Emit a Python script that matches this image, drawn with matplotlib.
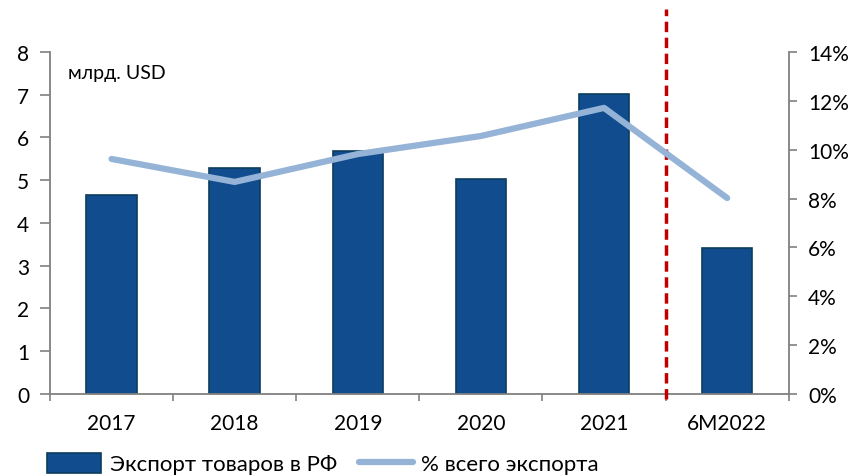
import numpy as np
import matplotlib
matplotlib.use('Agg')
import matplotlib.pyplot as plt
from matplotlib.ticker import FuncFormatter

plt.rcParams['font.family'] = ['Lato', 'DejaVu Sans']

# data
categories = ['2017', '2018', '2019', '2020', '2021', '6M2022']
export_bn = [4.65, 5.29, 5.68, 5.03, 7.02, 3.41]
share_pct = [9.62, 8.68, 9.82, 10.56, 11.71, 8.02]
unit_label = 'млрд. USD'
bar_label = 'Экспорт товаров в РФ'
line_label = '% всего экспорта'

bar_color = '#114C8E'
edge_color = '#0A3D5C'
line_color = '#95B3D7'
axis_gray = '#808080'

fig = plt.figure(figsize=(8.62, 4.77), dpi=100)
ax1 = fig.add_axes([0.058, 0.172, 0.857, 0.717])
ax2 = ax1.twinx()

x = np.arange(len(categories))
b = ax1.bar(x, export_bn, width=0.41, color=bar_color, edgecolor=edge_color,
            linewidth=1.2, label=bar_label, zorder=2)
l, = ax2.plot(x, share_pct, color=line_color, lw=4.5, solid_capstyle='round',
              solid_joinstyle='round', label=line_label, zorder=3)

ax1.set_xlim(-0.5, len(categories) - 0.5)
ax1.set_ylim(0, 8)
ax2.set_ylim(0, 14)
ax1.set_yticks(range(0, 9))
ax2.set_yticks(range(0, 15, 2))
ax2.yaxis.set_major_formatter(FuncFormatter(lambda v, p: '%d%%' % v))

ax1.set_xticks(x)
ax1.set_xticklabels(categories)
ax1.set_xticks(np.arange(-0.5, len(categories), 1.0), minor=True)
ax1.tick_params(axis='x', which='major', length=0, pad=14, labelsize=15)
ax1.tick_params(axis='x', which='minor', length=5, direction='out', color=axis_gray, width=1.2)
ax1.tick_params(axis='y', length=7, direction='out', color=axis_gray, width=1.2,
                labelsize=15, pad=8)
ax2.tick_params(axis='y', length=6, direction='out', color=axis_gray, width=1.2,
                labelsize=15, pad=8)

for ax in (ax1, ax2):
    ax.spines['top'].set_visible(False)
    for s in ('left', 'right', 'bottom'):
        ax.spines[s].set_color(axis_gray)
        ax.spines[s].set_linewidth(1.3)
ax1.spines['right'].set_visible(False)
ax2.spines['left'].set_visible(False)
ax2.spines['bottom'].set_visible(False)

# dashed separator between annual and half-year data
ax1.plot([4.5, 4.5], [-0.12, 9.0], color='#C00000', lw=2.5, ls=(0, (3, 1.6)),
         clip_on=False, zorder=4)

ax1.text(0.024, 0.94, unit_label, transform=ax1.transAxes, fontsize=14,
         ha='left', va='center')

fig.legend([b, l], [bar_label, line_label], loc='center', ncol=2,
           bbox_to_anchor=(0.375, 0.026), frameon=False, fontsize=16,
           handlelength=2.4, handleheight=1.0, handletextpad=0.4, columnspacing=1.0,
           borderpad=0)

fig.savefig('out.png', dpi=100)
